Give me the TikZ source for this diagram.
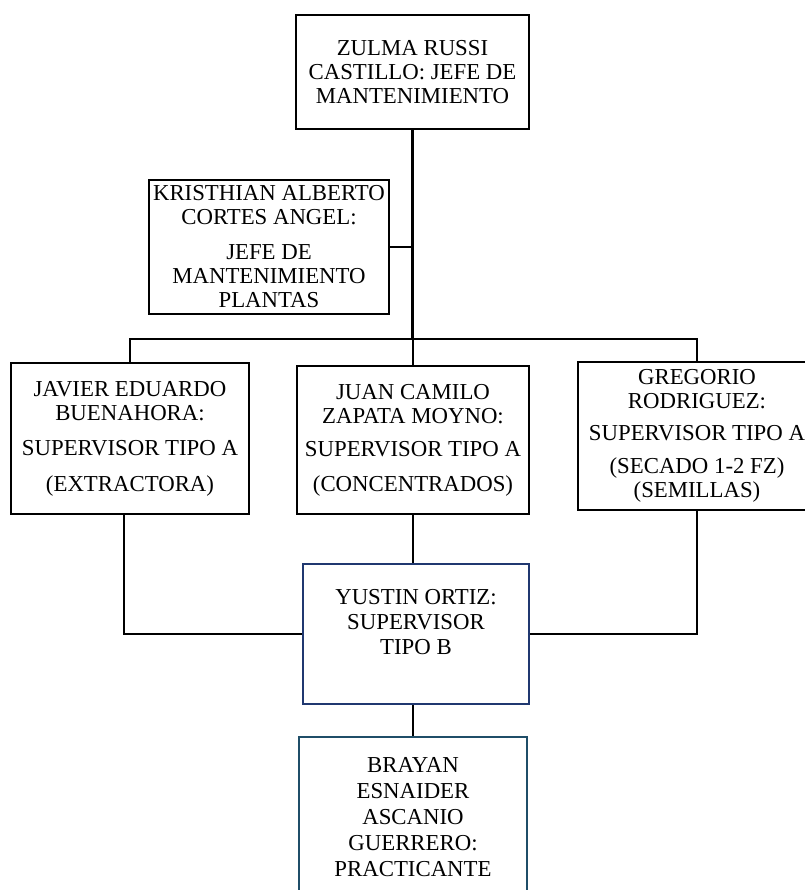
\documentclass[tikz,border=0pt]{standalone}
\usepackage{fontspec}
\setmainfont{Liberation Serif}
\usetikzlibrary{calc}
\definecolor{navyb}{RGB}{32,56,112}
\definecolor{tealb}{RGB}{31,78,104}
\begin{document}
\begin{tikzpicture}[x=1pt,y=-1pt,
  box/.style={draw=black, line width=2.2pt, inner sep=0pt, align=center, text=black,
              font=\fontsize{22.8}{24}\selectfont},
  txt/.style={inner sep=0pt, align=center, text=black, font=\fontsize{22.8}{25}\selectfont},
  conn/.style={draw=black, line width=2.2pt}]
\useasboundingbox (0,0) rectangle (804,890);
% boxes
\node[box, minimum width=233pt, minimum height=114pt] (zulma) at (412.5,72)
  {ZULMA RUSSI\\CASTILLO: JEFE DE\\MANTENIMIENTO};
\node[box, minimum width=240pt, minimum height=134pt] (krist) at (269,247)
  {KRISTHIAN ALBERTO\\CORTES ANGEL:\\[11pt]JEFE DE\\MANTENIMIENTO\\PLANTAS};
\node[box, minimum width=238pt, minimum height=151pt] (javier) at (130,438.5)
  {JAVIER EDUARDO\\BUENAHORA:\\[11pt]SUPERVISOR TIPO A\\[12pt](EXTRACTORA)};
\node[box, minimum width=232pt, minimum height=148pt] (juan) at (413,440)
  {JUAN CAMILO\\ZAPATA MOYNO:\\[9pt]SUPERVISOR TIPO A\\[11pt](CONCENTRADOS)};
\node[box, minimum width=238pt, minimum height=148pt] (greg) at (697,436)
  {GREGORIO\\RODRIGUEZ:\\[8pt]SUPERVISOR TIPO A\\[9pt](SECADO 1-2 FZ)\\(SEMILLAS)};
\node[box, draw=navyb, minimum width=226pt, minimum height=140pt] (yustin) at (416,634) {};
\node[txt] (yustint) at (416,622) {YUSTIN ORTIZ:\\SUPERVISOR\\TIPO B};
\node[box, draw=tealb, minimum width=228pt, minimum height=160pt,
      font=\fontsize{22.8}{26}\selectfont] (brayan) at (413,817)
  {BRAYAN\\ESNAIDER\\ASCANIO\\GUERRERO:\\PRACTICANTE};
% connectors
\coordinate (bus) at (0,339);
\draw[conn] (zulma.south) -- (zulma.south |- bus);
\draw[conn] (krist.east) -- (krist.east -| zulma.south);
\draw[conn] (javier.north) -- (javier.north |- bus) -- (greg.north |- bus) -- (greg.north);
\draw[conn] (juan.north) -- (juan.north |- bus);
\coordinate (jvout) at ($(javier.south)+(-6,0)$);
\draw[conn] (jvout) |- (yustin.west);
\draw[conn] (greg.south) |- (yustin.east);
\draw[conn] (juan.south) -- (juan.south |- yustin.north);
\draw[conn] (brayan.north |- yustin.south) -- (brayan.north);
\end{tikzpicture}
\end{document}
